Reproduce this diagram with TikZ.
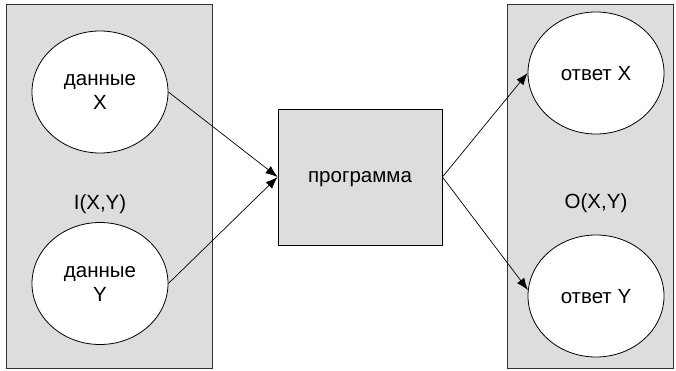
\documentclass[tikz,border=0pt]{standalone}
\usepackage{fontspec}
\setmainfont{Liberation Sans}
\usetikzlibrary{arrows.meta}
\definecolor{panelgray}{HTML}{DDDDDD}
\tikzset{
  panel/.style={draw=black!80, fill=panelgray, line width=0.8pt},
  blob/.style={draw=black, fill=white, ellipse, line width=0.8pt, minimum width=136pt, minimum height=122pt, inner sep=0pt, align=center, text depth=0pt, font=\fontsize{20.5}{24}\selectfont},
  lbl/.style={font=\fontsize{20.5}{24}\selectfont},
  progbox/.style={draw=black, fill=panelgray, line width=0.8pt, minimum width=164pt, minimum height=136pt, inner sep=0pt, text depth=0pt, font=\fontsize{20.5}{24}\selectfont},
  conn/.style={-{Latex[length=12pt,width=9pt]}, line width=0.7pt}
}
\usetikzlibrary{shapes.geometric}
\begin{document}
\begin{tikzpicture}[x=1pt,y=-1pt]
\useasboundingbox (0,0) rectangle (676,371);
\node[panel, minimum width=206pt, minimum height=364pt, inner sep=0pt] (lp) at (109.5,186) {};
\node[panel, minimum width=166pt, minimum height=364pt, inner sep=0pt] (rp) at (590.5,186) {};
\node[blob] (dx) at (100,92) {данные\\X};
\node[blob] (dy) at (100,283.5) {данные\\Y};
\node[lbl] (il) at (100,204) {I(X,Y)};
\node[blob] (ax) at (596,73) {ответ X};
\node[blob] (ay) at (596,296) {ответ Y};
\node[lbl] (ol) at (596,203) {O(X,Y)};
\node[progbox] (pg) at (360,177) {программа};
\draw[conn] (dx.east) -- (pg.west);
\draw[conn] (dy.east) -- (pg.west);
\draw[conn] (pg.east) -- (ax.west);
\draw[conn] (pg.east) -- (ay.175);
\end{tikzpicture}
\end{document}
